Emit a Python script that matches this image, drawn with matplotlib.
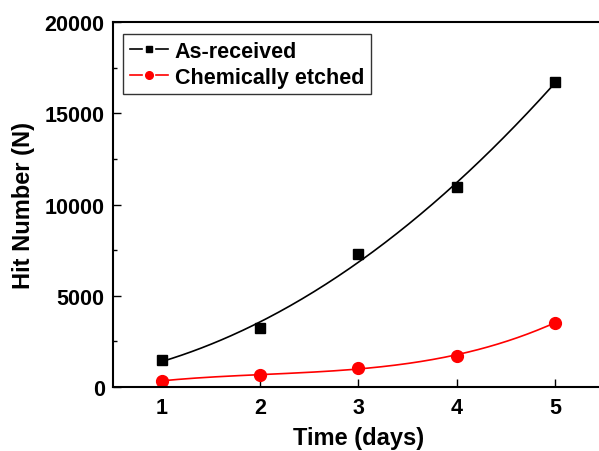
import numpy as np
import matplotlib.pyplot as plt
from matplotlib.lines import Line2D
from matplotlib.legend_handler import HandlerBase
from matplotlib.ticker import MultipleLocator

plt.rcParams['font.family'] = ['Liberation Sans', 'DejaVu Sans']
plt.rcParams['font.weight'] = 'bold'

# Data
days = [1, 2, 3, 4, 5]
as_received = [1500, 3220, 7290, 10950, 16700]
etched = [350, 630, 1060, 1720, 3530]


class GapLineHandler(HandlerBase):
    """Origin-like legend symbol: line, gap, marker, gap, line."""

    def create_artists(self, legend, orig_handle, xdescent, ydescent,
                       width, height, fontsize, trans):
        y = (height - ydescent) / 2.0
        x0, x1 = -xdescent, -xdescent + width
        xc = (x0 + x1) / 2.0
        gap = 0.19 * width
        col = orig_handle.get_color()
        lw = orig_handle.get_linewidth()
        left = Line2D([x0, xc - gap], [y, y], color=col, lw=lw)
        right = Line2D([xc + gap, x1], [y, y], color=col, lw=lw)
        mark = Line2D([xc], [y], ls='none', marker=orig_handle.get_marker(),
                      ms=orig_handle.get_markersize(), color=col)
        for a in (left, right, mark):
            a.set_transform(trans)
        return [left, right, mark]


fig = plt.figure(figsize=(5.99, 4.52), dpi=100)
ax = fig.add_axes([0.1886, 0.1416, 0.8197, 0.8075])

# smooth fitted curves through the measured points
xs = np.linspace(1, 5, 200)
fit_black = np.polyval(np.polyfit(days, as_received, 2), xs)
fit_red = np.polyval(np.polyfit(days, etched, 3), xs)
ax.plot(xs, fit_black, color='black', lw=1.2)
ax.plot(xs, fit_red, color='red', lw=1.2)

ax.plot(days, as_received, 's', color='black', ms=7.5, ls='none')
ax.plot(days, etched, 'o', color='red', ms=8.5, ls='none')

h1 = Line2D([], [], color='black', marker='s', ms=4.5, lw=1.2)
h2 = Line2D([], [], color='red', marker='o', ms=5.5, lw=1.2)
leg = ax.legend([h1, h2], ['As-received', 'Chemically etched'],
                loc='upper left', bbox_to_anchor=(0.021, 0.967),
                handler_map={Line2D: GapLineHandler()},
                fancybox=False, edgecolor='black', fontsize=15.5,
                handlelength=1.8, handletextpad=0.3, borderpad=0.3,
                labelspacing=0.25, borderaxespad=0.0)
leg.get_frame().set_linewidth(1.0)

ax.set_xlim(0.5, 5.5)
ax.set_ylim(0, 20000)
ax.xaxis.set_major_locator(MultipleLocator(1))
ax.yaxis.set_major_locator(MultipleLocator(5000))
ax.yaxis.set_minor_locator(MultipleLocator(2500))
ax.tick_params(which='both', direction='in', top=False, right=False,
               labelsize=15.5, width=1.0)
ax.tick_params(which='major', length=6)
ax.tick_params(which='minor', length=3)
ax.tick_params(axis='x', pad=7)
ax.tick_params(axis='y', pad=6)
for s in ax.spines.values():
    s.set_linewidth(1.5)

ax.set_xlabel('Time (days)', fontsize=17, fontweight='bold', labelpad=6)
ax.set_ylabel('Hit Number (N)', fontsize=17, fontweight='bold', labelpad=7)

fig.savefig('out.png', dpi=100)
